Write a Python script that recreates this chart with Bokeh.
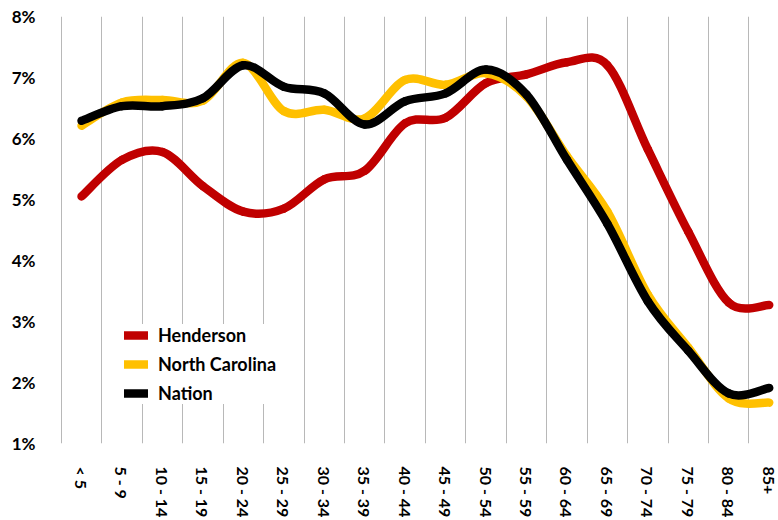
from bokeh.plotting import figure
from bokeh.models import FixedTicker, Legend, LegendItem, ColumnDataSource
from bokeh.embed import file_html
from bokeh.resources import INLINE

# ---- data (percent of population by age group) ----
ages = ["< 5", "5 - 9", "10 - 14", "15 - 19", "20 - 24", "25 - 29", "30 - 34",
        "35 - 39", "40 - 44", "45 - 49", "50 - 54", "55 - 59", "60 - 64",
        "65 - 69", "70 - 74", "75 - 79", "80 - 84", "85+"]
henderson = [5.05, 5.65, 5.78, 5.22, 4.80, 4.85, 5.33, 5.47, 6.25, 6.34,
             6.91, 7.05, 7.25, 7.20, 5.82, 4.47, 3.31, 3.27]
north_carolina = [6.21, 6.59, 6.63, 6.62, 7.24, 6.45, 6.47, 6.33, 6.96, 6.88,
                  7.07, 6.69, 5.71, 4.80, 3.44, 2.57, 1.74, 1.67]
nation = [6.29, 6.53, 6.53, 6.66, 7.20, 6.85, 6.74, 6.23, 6.61, 6.74,
          7.13, 6.72, 5.65, 4.60, 3.33, 2.52, 1.82, 1.91]
series_names = ["Henderson", "North Carolina", "Nation"]
series_colors = ["#C00000", "#FFC000", "#000000"]
y_ticks = [1, 2, 3, 4, 5, 6, 7, 8]

FONT = "Lato"

p = figure(width=778, height=520, x_range=(-0.52, 17.18), y_range=(1, 8),
           output_backend="svg", toolbar_location=None,
           min_border_left=60, min_border_right=2, min_border_top=16,
           min_border_bottom=74)
p.outline_line_color = None
p.background_fill_color = "white"
p.border_fill_color = "white"

xs = list(range(len(ages)))


def smooth_segments(ys):
    """Catmull-Rom style cubic bezier segments between consecutive points
    (as Excel's smoothed line)."""
    n = len(ys)
    d = dict(x0=[], y0=[], x1=[], y1=[], cx0=[], cy0=[], cx1=[], cy1=[])
    for i in range(n - 1):
        xm, ym = (xs[i - 1], ys[i - 1]) if i > 0 else (xs[i], ys[i])
        xa, ya = xs[i], ys[i]
        xb, yb = xs[i + 1], ys[i + 1]
        xp, yp = (xs[i + 2], ys[i + 2]) if i + 2 < n else (xs[i + 1], ys[i + 1])
        d["x0"].append(xa); d["y0"].append(ya)
        d["x1"].append(xb); d["y1"].append(yb)
        d["cx0"].append(xa + (xb - xm) / 6.0); d["cy0"].append(ya + (yb - ym) / 6.0)
        d["cx1"].append(xb - (xp - xa) / 6.0); d["cy1"].append(yb - (yp - ya) / 6.0)
    return ColumnDataSource(d)


items = []
for name, vals, col in zip(series_names, [henderson, north_carolina, nation], series_colors):
    r = p.bezier(x0="x0", y0="y0", x1="x1", y1="y1", cx0="cx0", cy0="cy0",
                 cx1="cx1", cy1="cy1", source=smooth_segments(vals),
                 line_color=col, line_width=8.5, line_cap="round")
    items.append(LegendItem(label=name, renderers=[r]))

# grid: vertical lines between categories only
p.xgrid.ticker = FixedTicker(ticks=[i - 0.5 for i in range(len(ages))])
p.xgrid.grid_line_color = "#b8b8b8"
p.xgrid.grid_line_width = 1
p.ygrid.grid_line_color = None

# x axis
p.xaxis.ticker = FixedTicker(ticks=xs)
p.xaxis.major_label_overrides = {i: a for i, a in enumerate(ages)}
p.xaxis.major_label_orientation = "vertical"
p.xaxis.axis_line_color = None
p.xaxis.major_tick_line_color = None
p.xaxis.minor_tick_line_color = None
p.xaxis.major_label_standoff = 17
p.xaxis.major_label_text_font = FONT
p.xaxis.major_label_text_font_style = "bold"
p.xaxis.major_label_text_font_size = "16px"
p.xaxis.major_label_text_color = "#000000"

# y axis
p.yaxis.ticker = FixedTicker(ticks=y_ticks)
p.yaxis.major_label_overrides = {t: f"{t}%" for t in y_ticks}
p.yaxis.axis_line_color = None
p.yaxis.major_tick_line_color = None
p.yaxis.minor_tick_line_color = None
p.yaxis.major_label_standoff = 19
p.yaxis.major_label_text_font = FONT
p.yaxis.major_label_text_font_style = "bold"
p.yaxis.major_label_text_font_size = "17px"
p.yaxis.major_label_text_color = "#000000"

legend = Legend(items=items, location=(64, 39), orientation="vertical",
                glyph_width=24, glyph_height=20, label_height=20,
                label_standoff=10, spacing=7, padding=10, margin=0,
                border_line_color=None, background_fill_color="white",
                background_fill_alpha=1.0,
                label_text_font=FONT, label_text_font_style="bold",
                label_text_font_size="18px", label_text_color="#000000")
p.add_layout(legend, "center")

open("out.html", "w").write(file_html(p, INLINE))
